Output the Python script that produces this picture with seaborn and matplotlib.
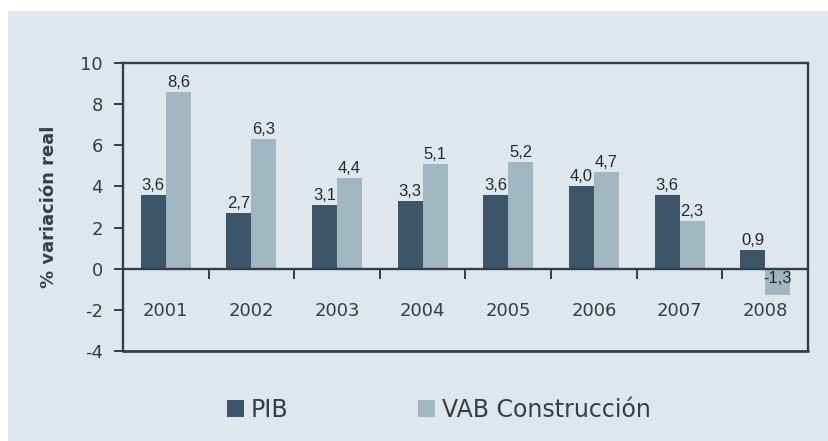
import matplotlib
matplotlib.use("Agg")
import matplotlib.pyplot as plt
from matplotlib.patches import Rectangle
import seaborn as sns
import pandas as pd

years = ["2001", "2002", "2003", "2004", "2005", "2006", "2007", "2008"]
pib = [3.6, 2.7, 3.1, 3.3, 3.6, 4.0, 3.6, 0.9]
vab = [8.6, 6.3, 4.4, 5.1, 5.2, 4.7, 2.3, -1.3]
series_names = ["PIB", "VAB Construcción"]
y_ticks = [-4, -2, 0, 2, 4, 6, 8, 10]
y_label = "% variación real"

BG = "#dfe6ec"
DARK = "#3c5568"
LIGHT = "#a0b7c2"
TXT = "#333f48"
LINE = "#2f3f4c"

sns.set_theme(style="white")
plt.rcParams["font.family"] = ["DejaVu Sans"]

df = pd.DataFrame({
    "year": years * 2,
    "value": pib + vab,
    "serie": [series_names[0]] * len(years) + [series_names[1]] * len(years),
})

fig = plt.figure(figsize=(8.29, 4.41), dpi=100)
fig.patch.set_facecolor("white")
fig.patches.append(Rectangle((8 / 829, 0), 1, 1 - 11 / 441, transform=fig.transFigure,
                             facecolor=BG, edgecolor="none", zorder=-10))

ax = fig.add_axes([123 / 829, 1 - 351 / 441, (808 - 123) / 829, (351 - 63) / 441])
ax.set_facecolor(BG)

sns.barplot(data=df, x="year", y="value", hue="serie", order=years,
            hue_order=series_names, palette=[DARK, LIGHT], width=0.585,
            saturation=1, ax=ax, legend=False, zorder=2, linewidth=0,
            edgecolor="none")

# value labels
for cont, vals in zip(ax.containers, [pib, vab]):
    for patch, v in zip(cont.patches, vals):
        xc = patch.get_x() + patch.get_width() / 2
        txt = f"{v:.1f}".replace(".", ",")
        if v >= 0:
            ax.annotate(txt, (xc, v), xytext=(0, 1.5), textcoords="offset points",
                        ha="center", va="bottom", fontsize=12, color="#222a30",
                        family=["Liberation Sans"], zorder=5)
        else:
            ax.annotate(txt, (xc, 0), xytext=(0, -2), textcoords="offset points",
                        ha="center", va="top", fontsize=12, color="#222a30",
                        family=["Liberation Sans"], zorder=5)

ax.set_ylim(-4, 10)
ax.set_xlim(-0.5, len(years) - 0.5)
ax.set_yticks(y_ticks)
ax.set_yticklabels([str(t) for t in y_ticks])

# spines
for s in ["left", "right", "top"]:
    ax.spines[s].set_visible(True)
    ax.spines[s].set_color(LINE)
    ax.spines[s].set_linewidth(1.7)
ax.spines["bottom"].set_position(("data", 0))
ax.spines["bottom"].set_color(LINE)
ax.spines["bottom"].set_linewidth(1.7)
ax.spines["bottom"].set_zorder(4)
ax.axhline(-4, color=LINE, lw=2.0, clip_on=False, zorder=4)

ax.tick_params(axis="y", which="major", left=True, length=6.5, width=1.4, color=LINE,
               labelsize=13, labelcolor=TXT, pad=8)
ax.tick_params(axis="x", which="major", bottom=False, length=0, labelsize=13,
               labelcolor=TXT, pad=24)
ax.set_xticks([i + 0.5 for i in range(len(years) - 1)], minor=True)
ax.tick_params(axis="x", which="minor", bottom=True, length=7, width=1.4, color=LINE,
               direction="out")
ax.set_xlabel("")
ax.set_ylabel(y_label, fontsize=13, fontweight="bold", color=TXT)
ax.yaxis.set_label_coords(-0.095, 0.5)

handles = [Rectangle((0, 0), 1, 1, facecolor=c, edgecolor="none") for c in [DARK, LIGHT]]
fig.legend(handles, series_names, loc="center", bbox_to_anchor=(439 / 829, 1 - 410 / 441),
           ncol=2, frameon=False, fontsize=17, handlelength=0.72, handleheight=0.72,
           handletextpad=0.3, columnspacing=5.5, labelcolor=TXT)

fig.savefig("out.png", dpi=100, facecolor=fig.get_facecolor())
